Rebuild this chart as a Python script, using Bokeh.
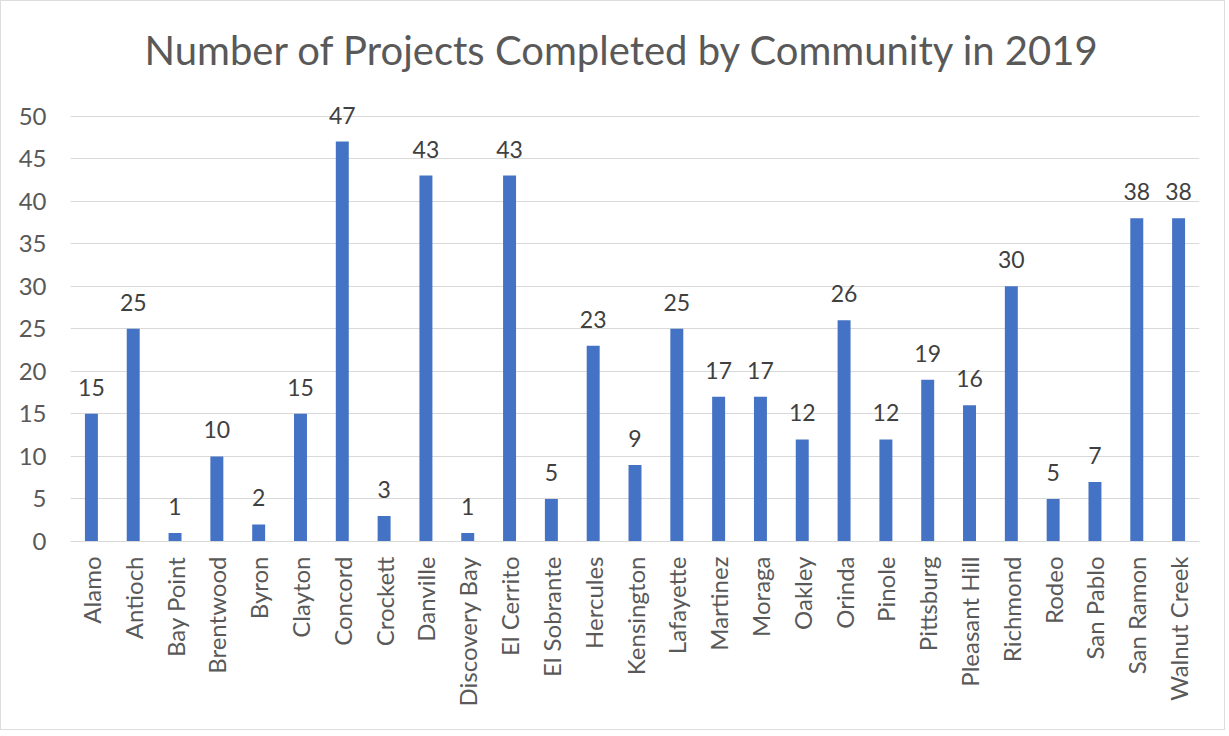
import math
from bokeh.plotting import figure
from bokeh.models import ColumnDataSource, Range1d, FactorRange
from bokeh.core.properties import value
from bokeh.embed import file_html
from bokeh.resources import INLINE

communities = ["Alamo", "Antioch", "Bay Point", "Brentwood", "Byron", "Clayton", "Concord",
               "Crockett", "Danville", "Discovery Bay", "El Cerrito", "El Sobrante", "Hercules",
               "Kensington", "Lafayette", "Martinez", "Moraga", "Oakley", "Orinda", "Pinole",
               "Pittsburg", "Pleasant Hill", "Richmond", "Rodeo", "San Pablo", "San Ramon",
               "Walnut Creek"]
projects = [15, 25, 1, 10, 2, 15, 47, 3, 43, 1, 43, 5, 23, 9, 25, 17, 17, 12, 26, 12,
            19, 16, 30, 5, 7, 38, 38]
y_ticks = [0, 5, 10, 15, 20, 25, 30, 35, 40, 45, 50]

FONT = "Lato"
TXT = "#595959"

src = ColumnDataSource(dict(x=communities, y=projects, lbl=[str(v) for v in projects]))

p = figure(x_range=FactorRange(*communities, range_padding=0), y_range=Range1d(0, 53),
           width=1225, height=730, output_backend="svg", toolbar_location=None,
           min_border_left=69, min_border_right=27, min_border_top=89, min_border_bottom=190,
           title="Number of Projects Completed by Community in 2019")
p.styles = {"border": "1px solid #DDDDDD"}
p.title.align = "left"
p.title.offset = 74
p.title.text_font = FONT
p.title.text_font_size = "40px"
p.title.text_font_style = "normal"
p.title.text_color = TXT
p.title.standoff = 34

p.vbar(x="x", top="y", width=0.31, source=src, color="#4472C4", line_color=None)
p.text(x="x", y="y", text="lbl", source=src, text_align="center", text_baseline="bottom",
       y_offset=-18, text_font=value(FONT), text_font_size="23px", text_color="#404040")

p.outline_line_color = None
p.xgrid.grid_line_color = None
p.ygrid.grid_line_color = "#D9D9D9"
p.ygrid.grid_line_width = 1
p.yaxis.ticker = y_ticks
p.yaxis.axis_line_color = None
p.yaxis.major_tick_line_color = None
p.yaxis.minor_tick_line_color = None
p.yaxis.major_label_text_font = FONT
p.yaxis.major_label_text_font_size = "24px"
p.yaxis.major_label_text_color = TXT
p.yaxis.major_label_standoff = 18

p.xaxis.axis_line_color = "#D9D9D9"
p.xaxis.major_tick_line_color = None
p.xaxis.minor_tick_line_color = None
p.xaxis.major_label_orientation = math.pi / 2
p.xaxis.major_label_text_font = FONT
p.xaxis.major_label_text_font_size = "24px"
p.xaxis.major_label_text_color = TXT
p.xaxis.major_label_standoff = 9

open("out.html", "w").write(file_html(p, INLINE))
